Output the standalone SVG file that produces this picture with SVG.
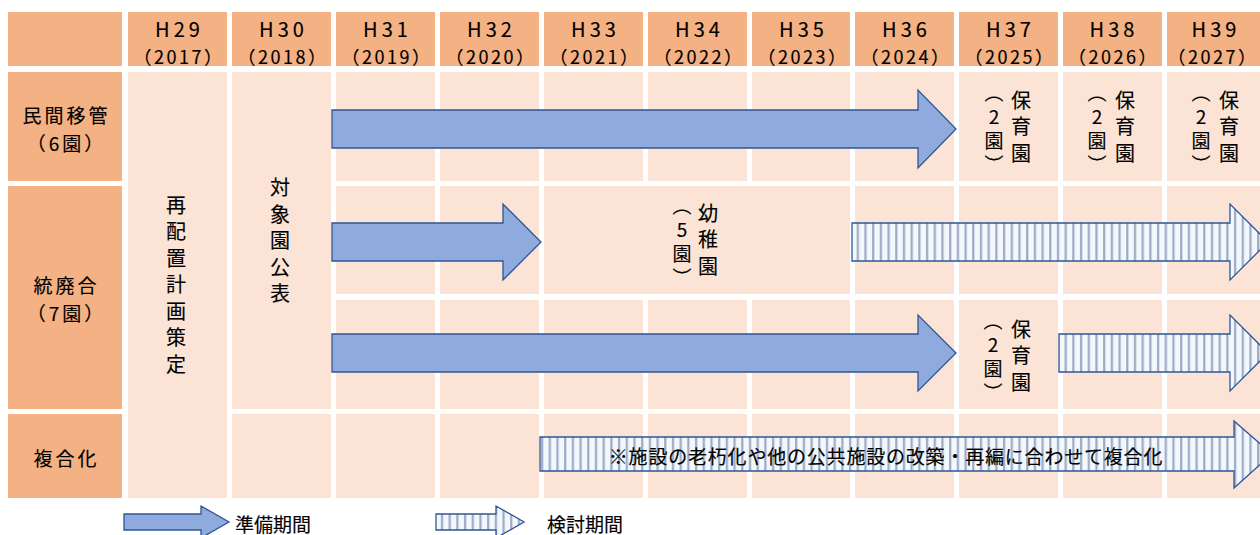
<svg xmlns="http://www.w3.org/2000/svg" width="1260" height="535" viewBox="0 0 1260 535">
<style>
.hd{fill:#F4B183}
.cl{fill:#FBE4D6}
text{font-family:"Noto Sans CJK JP","Noto Sans",sans-serif;fill:#000;stroke:#000;stroke-width:0.15px}
.yr{font-size:20px;letter-spacing:4px;text-anchor:middle;dominant-baseline:central}
.yy{font-size:18px;letter-spacing:2.5px;text-anchor:middle;dominant-baseline:central}
.lb{font-size:19px;letter-spacing:3px;text-anchor:middle;dominant-baseline:central}
.vt{font-size:20px;letter-spacing:6.5px;writing-mode:vertical-rl;text-orientation:upright;text-anchor:middle}
.vp{font-size:19px;letter-spacing:5px;writing-mode:vertical-rl;text-orientation:upright;text-anchor:middle}
.ar{fill:#8FAADC;stroke:#2F5597;stroke-width:1.3}
.st{fill:url(#stripe);stroke:#2F5597;stroke-width:1.3}
.nt{font-size:19px;letter-spacing:0.8px;text-anchor:middle;dominant-baseline:central}
.lg{font-size:19px;dominant-baseline:central}
</style>
<defs>
<pattern id="stripe" patternUnits="userSpaceOnUse" width="7.7" height="10">
<rect width="7.7" height="10" fill="#F3F8FD"/>
<rect x="2" width="2.2" height="10" fill="#9DA9C6"/>
</pattern>
</defs>
<g id="header">
<rect class="hd" x="8" y="12" width="114" height="54"/>
<rect class="hd" x="128" y="12" width="99" height="54"/>
<rect class="hd" x="232" y="12" width="99" height="54"/>
<rect class="hd" x="336" y="12" width="99" height="54"/>
<rect class="hd" x="440" y="12" width="99" height="54"/>
<rect class="hd" x="544" y="12" width="99" height="54"/>
<rect class="hd" x="648" y="12" width="99" height="54"/>
<rect class="hd" x="752" y="12" width="98" height="54"/>
<rect class="hd" x="855" y="12" width="99" height="54"/>
<rect class="hd" x="959" y="12" width="99" height="54"/>
<rect class="hd" x="1063" y="12" width="99" height="54"/>
<rect class="hd" x="1167" y="12" width="99" height="54"/>
<text class="yr" x="179.5" y="28">H29</text><text class="yy" x="179" y="56">（2017）</text>
<text class="yr" x="283.5" y="28">H30</text><text class="yy" x="283" y="56">（2018）</text>
<text class="yr" x="387.5" y="28">H31</text><text class="yy" x="387" y="56">（2019）</text>
<text class="yr" x="491.5" y="28">H32</text><text class="yy" x="491" y="56">（2020）</text>
<text class="yr" x="595.5" y="28">H33</text><text class="yy" x="595" y="56">（2021）</text>
<text class="yr" x="699.5" y="28">H34</text><text class="yy" x="699" y="56">（2022）</text>
<text class="yr" x="803.5" y="28">H35</text><text class="yy" x="803" y="56">（2023）</text>
<text class="yr" x="906.5" y="28">H36</text><text class="yy" x="906" y="56">（2024）</text>
<text class="yr" x="1010.5" y="28">H37</text><text class="yy" x="1010" y="56">（2025）</text>
<text class="yr" x="1114" y="28">H38</text><text class="yy" x="1113.5" y="56">（2026）</text>
<text class="yr" x="1216" y="28">H39</text><text class="yy" x="1213" y="56">（2027）</text>
</g>
<g id="row-labels">
<rect class="hd" x="8" y="72" width="114" height="109"/>
<rect class="hd" x="8" y="186" width="114" height="223"/>
<rect class="hd" x="8" y="414" width="114" height="84"/>
<text class="lb" x="66.5" y="114">民間移管</text>
<text class="lb" x="66.5" y="142">（6園）</text>
<text class="lb" x="66.5" y="284.5">統廃合</text>
<text class="lb" x="66.5" y="312">（7園）</text>
<text class="lb" x="66.5" y="457">複合化</text>
</g>
<g id="cells">
<rect class="cl" x="128" y="72" width="99" height="426"/>
<rect class="cl" x="232" y="72" width="99" height="337"/>
<rect class="cl" x="232" y="414" width="99" height="84"/>
<rect class="cl" x="336" y="72" width="99" height="109"/>
<rect class="cl" x="440" y="72" width="99" height="109"/>
<rect class="cl" x="544" y="72" width="99" height="109"/>
<rect class="cl" x="648" y="72" width="99" height="109"/>
<rect class="cl" x="752" y="72" width="98" height="109"/>
<rect class="cl" x="855" y="72" width="99" height="109"/>
<rect class="cl" x="959" y="72" width="99" height="109"/>
<rect class="cl" x="1063" y="72" width="99" height="109"/>
<rect class="cl" x="1167" y="72" width="99" height="109"/>
<rect class="cl" x="336" y="186" width="99" height="108"/>
<rect class="cl" x="440" y="186" width="99" height="108"/>
<rect class="cl" x="544" y="186" width="306" height="108"/>
<rect class="cl" x="855" y="186" width="99" height="108"/>
<rect class="cl" x="959" y="186" width="99" height="108"/>
<rect class="cl" x="1063" y="186" width="99" height="108"/>
<rect class="cl" x="1167" y="186" width="99" height="108"/>
<rect class="cl" x="336" y="300" width="99" height="109"/>
<rect class="cl" x="440" y="300" width="99" height="109"/>
<rect class="cl" x="544" y="300" width="99" height="109"/>
<rect class="cl" x="648" y="300" width="99" height="109"/>
<rect class="cl" x="752" y="300" width="98" height="109"/>
<rect class="cl" x="855" y="300" width="99" height="109"/>
<rect class="cl" x="959" y="300" width="99" height="109"/>
<rect class="cl" x="1063" y="300" width="99" height="109"/>
<rect class="cl" x="1167" y="300" width="99" height="109"/>
<rect class="cl" x="336" y="414" width="99" height="84"/>
<rect class="cl" x="440" y="414" width="99" height="84"/>
<rect class="cl" x="544" y="414" width="99" height="84"/>
<rect class="cl" x="648" y="414" width="99" height="84"/>
<rect class="cl" x="752" y="414" width="98" height="84"/>
<rect class="cl" x="855" y="414" width="99" height="84"/>
<rect class="cl" x="959" y="414" width="99" height="84"/>
<rect class="cl" x="1063" y="414" width="99" height="84"/>
<rect class="cl" x="1167" y="414" width="99" height="84"/>
</g>
<g id="cell-texts">
<text class="vt" x="176" y="288">再配置計画策定</text>
<text class="vt" x="280" y="244">対象園公表</text>
<text class="vt" x="1021" y="130">保育園</text>
<text class="vp" x="994" y="131">（2園）</text>
<text class="vt" x="1125" y="130">保育園</text>
<text class="vp" x="1097" y="131">（2園）</text>
<text class="vt" x="1229" y="130">保育園</text>
<text class="vp" x="1201" y="131">（2園）</text>
<text class="vt" x="708" y="243">幼稚園</text>
<text class="vp" x="682" y="244">（5園）</text>
<text class="vt" x="1021" y="359">保育園</text>
<text class="vp" x="993" y="359">（2園）</text>
</g>
<g id="connectors">
<polygon class="ar" points="332,110 918,110 918,90 956,129 918,168 918,148 332,148"/>
<polygon class="ar" points="332,223 503,223 503,204 541,242 503,280 503,261 332,261"/>
<polygon class="st" points="852,223 1230,223 1230,204 1268,242 1230,280 1230,261 852,261"/>
<polygon class="ar" points="332,334 918,334 918,315 956,353 918,391 918,372 332,372"/>
<polygon class="st" points="1059,334 1230,334 1230,315 1268,353 1230,391 1230,372 1059,372"/>
<polygon class="st" points="540,437 1234,437 1234,421 1272,454 1234,488 1234,471 540,471"/>
<text class="nt" x="886" y="455">※施設の老朽化や他の公共施設の改築・再編に合わせて複合化</text>
</g>
<g id="legend">
<polygon class="ar" points="124,514 201,514 201,506 229,522 201,538 201,530 124,530"/>
<text class="lg" x="235" y="523">準備期間</text>
<polygon class="st" points="436,514 496,514 496,506 524,522 496,538 496,530 436,530"/>
<text class="lg" x="547" y="523">検討期間</text>
</g>
</svg>
